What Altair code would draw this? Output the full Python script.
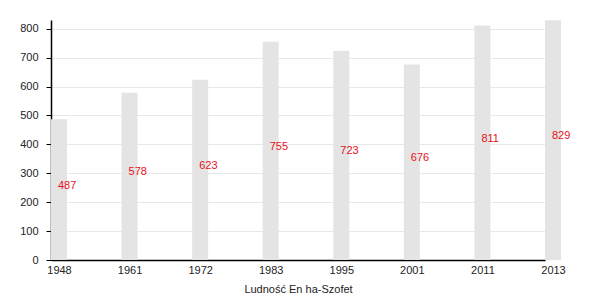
import altair as alt
import pandas as pd

years = ["1948", "1961", "1972", "1983", "1995", "2001", "2011", "2013"]
population = [487, 578, 623, 755, 723, 676, 811, 829]

df = pd.DataFrame({"year": years, "pop": population})
df["half"] = df["pop"] / 2

FONT = "Liberation Sans"

xaxis = alt.Axis(title="Ludność En ha-Szofet", labelAngle=0, ticks=False, labelOffset=8,
                 domainColor="black", labelColor="#222", labelFontSize=11,
                 labelFont=FONT, titleFont=FONT, titleFontSize=11, titleFontWeight="normal",
                 titleColor="#222", labelPadding=4, titlePadding=8, domainWidth=1.5, grid=False)
xscale = alt.Scale(type="point", padding=0, range=[0, 494])

yaxis = alt.Axis(title=None, values=[0, 100, 200, 300, 400, 500, 600, 700, 800],
                 labelOverlap=False, grid=True,
                 gridColor="#e8e8e8", domainColor="black", tickColor="black",
                 tickSize=5, labelColor="#222", labelFontSize=11, labelFont=FONT,
                 labelPadding=8, domainWidth=1.5)
yscale = alt.Scale(domain=[0, 830], nice=False)

bars = alt.Chart(df).mark_bar(width=16, xOffset=8, color="#e4e4e4").encode(
    x=alt.X("year:O", sort=years, scale=xscale, axis=xaxis),
    y=alt.Y("pop:Q", scale=yscale, axis=yaxis),
)

labels = alt.Chart(df).mark_text(align="left", baseline="middle", dx=7, dy=-4, color="#e8101a",
                                 fontSize=11, font=FONT).encode(
    x=alt.X("year:O", sort=years, scale=xscale, axis=xaxis),
    y=alt.Y("half:Q", scale=yscale, axis=yaxis),
    text=alt.Text("pop:Q"),
)

chart = (bars + labels).properties(
    width=510, height=240,
    autosize=alt.AutoSizeParams(type="none"),
    padding={"left": 51, "top": 20, "right": 39, "bottom": 40},
).configure_view(stroke=None)

chart.save("out.html", embed_options={"renderer": "svg", "actions": False})
